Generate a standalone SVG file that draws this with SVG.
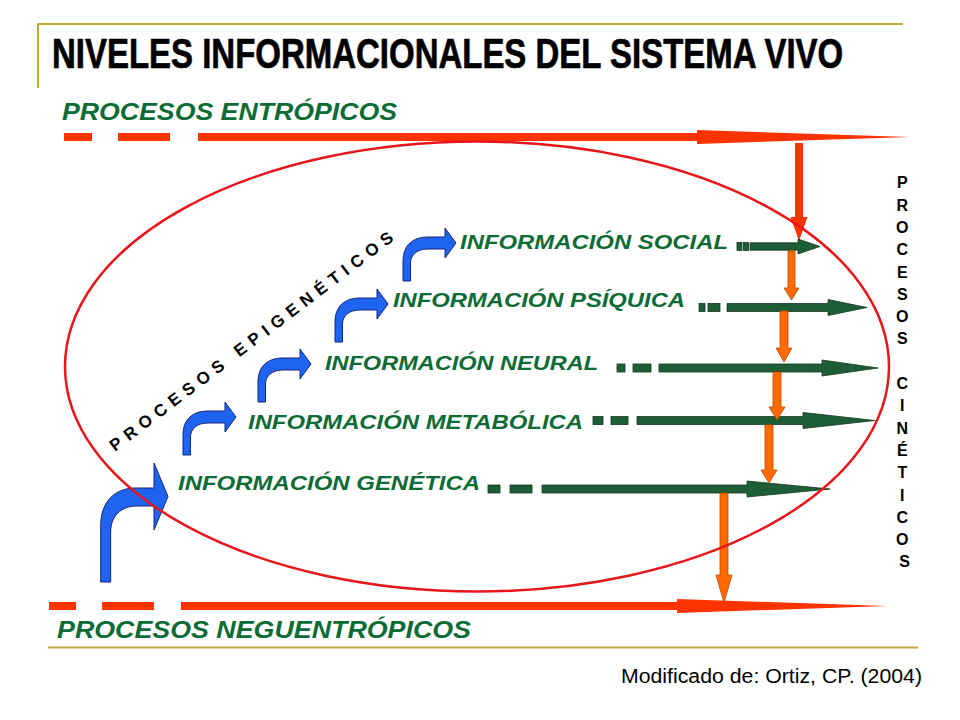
<svg xmlns="http://www.w3.org/2000/svg" width="960" height="720" viewBox="0 0 960 720">
<defs>
<style>
.gold{stroke:#c8a838;stroke-width:2;fill:none}
.title{font-family:"Liberation Sans",Arial,sans-serif;font-weight:bold;font-size:42px;fill:#000;stroke:#000;stroke-width:0.7}
.proc{font-family:"Liberation Sans",Arial,sans-serif;font-weight:bold;font-style:italic;font-size:23px;fill:#0d6b35}
.info{font-family:"Liberation Sans",Arial,sans-serif;font-weight:bold;font-style:italic;font-size:21px;fill:#0d6b35}
.epi{font-family:"Liberation Sans",Arial,sans-serif;font-weight:bold;font-size:17px;fill:#000}
.cin{font-family:"Liberation Sans",Arial,sans-serif;font-weight:bold;font-size:16px;fill:#000}
.cite{font-family:"Liberation Sans",Arial,sans-serif;font-size:20px;fill:#000}
.red{fill:#ff3300}
.grn{fill:#1e5e36;stroke:#12391f;stroke-width:0.8}
.org{fill:#ff6a00;stroke:#b84a00;stroke-width:0.8}
.blu{fill:#1e64f0;stroke:#16257a;stroke-width:1}
</style>
<path id="bent" d="M0,0 V-20 C0,-36 10,-44 25,-44 H42 V-53 L53,-38 L42,-23 V-32 H25 C14,-32 7.5,-26 7.5,-18 V0 Z"/>
</defs>
<rect width="960" height="720" fill="#fff"/>

<g id="frame">
<line class="gold" x1="38" y1="24" x2="903" y2="24"/>
<line class="gold" x1="38" y1="23" x2="38" y2="88"/>
<line class="gold" x1="48" y1="647.5" x2="918" y2="647.5"/>
</g>

<g id="title">
<text class="title" transform="translate(52,68) scale(0.785,1)" x="0" y="0">NIVELES INFORMACIONALES DEL SISTEMA VIVO</text>
</g>

<g id="connectors">
<g id="entropic-arrow" class="red">
<rect x="64" y="133" width="28" height="8"/>
<rect x="118" y="133" width="52" height="8"/>
<path d="M198,133 H697 V130 L910,137 L697,144 V141 H198 Z"/>
<path d="M795,143 H803 V217 H807.5 L799,241 L790.5,217 H795 Z"/>
</g>
<g id="negentropic-arrow" class="red">
<rect x="49" y="602" width="27" height="8"/>
<rect x="102" y="602" width="52" height="8"/>
<path d="M181,602 H677 V599 L887,606 L677,613 V610 H181 Z"/>
</g>
<g id="green-social">
<rect class="grn" x="737" y="242.5" width="5" height="8"/>
<rect class="grn" x="743.5" y="242.5" width="5" height="8"/>
<path class="grn" d="M750,242.8 H798 V239 L820,246.5 L798,254 V250.2 H750 Z"/>
</g>
<g id="green-psiquica">
<rect class="grn" x="699" y="303.5" width="6" height="8"/>
<rect class="grn" x="708" y="303.5" width="12" height="8"/>
<path class="grn" d="M727,303.5 H828 V299.5 L867,307.5 L828,315.5 V311.5 H727 Z"/>
</g>
<g id="green-neural">
<rect class="grn" x="617" y="364" width="8" height="8"/>
<rect class="grn" x="633" y="364" width="18" height="8"/>
<path class="grn" d="M659,364 H822 V360 L878,368 L822,376 V372 H659 Z"/>
</g>
<g id="green-metabolica">
<rect class="grn" x="593" y="416.5" width="10" height="8"/>
<rect class="grn" x="611" y="416.5" width="17" height="8"/>
<path class="grn" d="M637,416.5 H803 V412.5 L875,420.5 L803,428.5 V424.5 H637 Z"/>
</g>
<g id="green-genetica">
<rect class="grn" x="488" y="485" width="12" height="8"/>
<rect class="grn" x="510" y="485" width="22" height="8"/>
<path class="grn" d="M542,485 H747 V481 L830,489 L747,497 V493 H542 Z"/>
</g>
<path id="org-1" class="org" d="M788,251 H795 V288 H799 L791.5,300 L784,288 H788 Z"/>
<path id="org-2" class="org" d="M780,311 H788 V348 H792 L784,362 L776,348 H780 Z"/>
<path id="org-3" class="org" d="M773,372 H781 V407 H785 L777,420 L769,407 H773 Z"/>
<path id="org-4" class="org" d="M765,425 H773 V470 H777 L769,483 L761,470 H765 Z"/>
<path id="org-5" class="org" d="M720,493 H728 V575 H732 L724,603 L716,575 H720 Z"/>
<path id="blue-big" class="blu" d="M100.7,582 V525 C100.7,502 115,488 135,488 H154 V463 L168,496.5 L154,530 V506 H137 C121,506 110.7,516 110.7,532 V582 Z"/>
<use id="blue-1" class="blu" href="#bent" transform="translate(183,455)"/>
<use id="blue-2" class="blu" href="#bent" transform="translate(258,402)"/>
<use id="blue-3" class="blu" href="#bent" transform="translate(335,342)"/>
<use id="blue-4" class="blu" href="#bent" transform="translate(403,281)"/>
</g>

<g id="system-ellipse">
<ellipse cx="477" cy="366.5" rx="412" ry="225" fill="none" stroke="#e8161b" stroke-width="2.5"/>
</g>

<g id="label-entropicos">
<text class="proc" x="62" y="120" textLength="335" lengthAdjust="spacingAndGlyphs">PROCESOS ENTRÓPICOS</text>
</g>
<g id="label-neguentropicos">
<text class="proc" x="57" y="638" textLength="414" lengthAdjust="spacingAndGlyphs">PROCESOS NEGUENTRÓPICOS</text>
</g>

<g id="node-social"><text class="info" x="460" y="248.5" textLength="268" lengthAdjust="spacingAndGlyphs">INFORMACIÓN SOCIAL</text></g>
<g id="node-psiquica"><text class="info" x="393" y="307" textLength="292" lengthAdjust="spacingAndGlyphs">INFORMACIÓN PSÍQUICA</text></g>
<g id="node-neural"><text class="info" x="325" y="369.5" textLength="273" lengthAdjust="spacingAndGlyphs">INFORMACIÓN NEURAL</text></g>
<g id="node-metabolica"><text class="info" x="248" y="429" textLength="335" lengthAdjust="spacingAndGlyphs">INFORMACIÓN METABÓLICA</text></g>
<g id="node-genetica"><text class="info" x="178" y="490" textLength="302" lengthAdjust="spacingAndGlyphs">INFORMACIÓN GENÉTICA</text></g>

<g id="label-epigeneticos">
<text class="epi" transform="translate(115,452) rotate(-37.2)" x="0" y="0" textLength="351" lengthAdjust="spacing">PROCESOS EPIGENÉTICOS</text>
</g>

<g id="label-cineticos">
<text class="cin" text-anchor="middle">
<tspan x="904.5" y="188.3">P</tspan>
<tspan x="904.5" y="210.6">R</tspan>
<tspan x="904.5" y="232.9">O</tspan>
<tspan x="904.5" y="255.2">C</tspan>
<tspan x="904.5" y="277.5">E</tspan>
<tspan x="904.5" y="299.8">S</tspan>
<tspan x="904.5" y="322.1">O</tspan>
<tspan x="904.5" y="344.4">S</tspan>
<tspan x="904.5" y="389">C</tspan>
<tspan x="904.5" y="411.3">I</tspan>
<tspan x="904.5" y="433.6">N</tspan>
<tspan x="904.5" y="455.9">É</tspan>
<tspan x="904.5" y="478.2">T</tspan>
<tspan x="904.5" y="500.5">I</tspan>
<tspan x="904.5" y="522.8">C</tspan>
<tspan x="904.5" y="545.1">O</tspan>
<tspan x="904.5" y="567.4">S</tspan>
</text>
</g>

<g id="citation">
<text class="cite" x="621" y="683" textLength="301" lengthAdjust="spacingAndGlyphs">Modificado de: Ortiz, CP. (2004)</text>
</g>
</svg>
